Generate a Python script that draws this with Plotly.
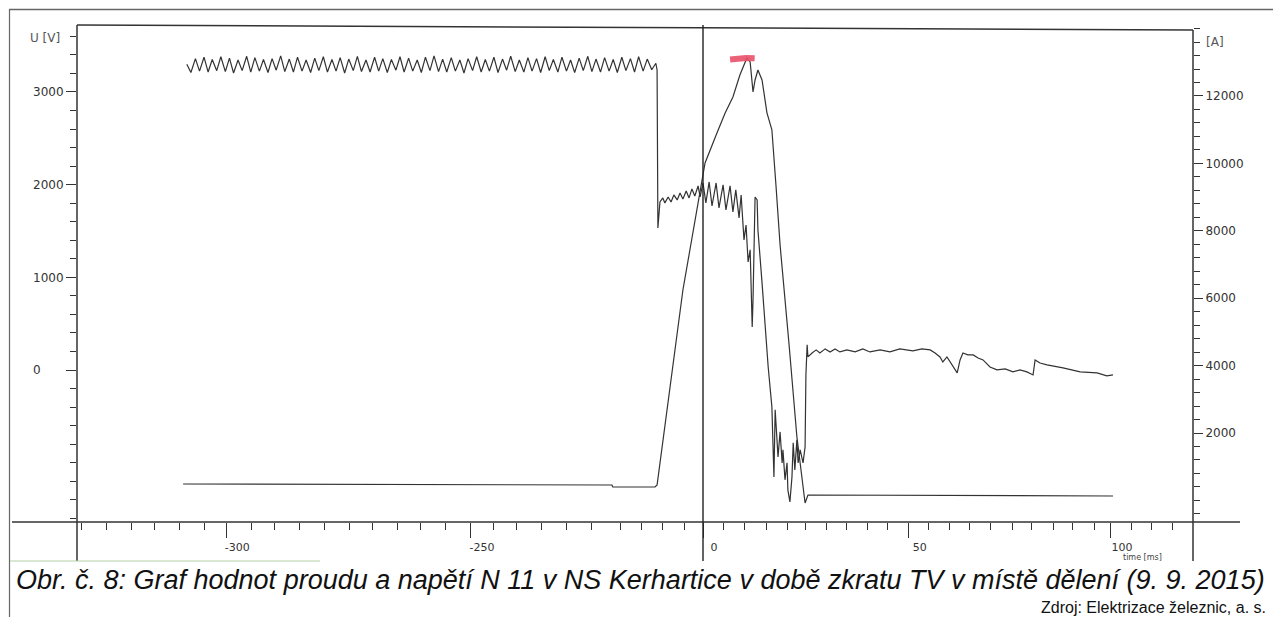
import plotly.graph_objects as go

# page body has an 8px margin; the figure fills the rest of the 1281x625 window
OFF = 8
W, H = 1281 - 2 * OFF, 625 - 2 * OFF

# ---------------- data (time in ms along the drawn axis) ----------------
# voltage ripple before the fault
t_ripple = [
    -125.9, -124.9, -123.8, -122.8, -121.7, -120.7, -119.7, -118.6, -117.6, -116.5,
    -115.5, -114.5, -113.4, -112.4, -111.3, -110.3, -109.3, -108.2, -107.2, -106.1,
    -105.1, -104.1, -103.0, -102.0, -100.9, -99.9, -98.9, -97.8, -96.8, -95.7,
    -94.7, -93.7, -92.6, -91.6, -90.5, -89.5, -88.5, -87.4, -86.4, -85.3,
    -84.3, -83.3, -82.2, -81.2, -80.1, -79.1, -78.1, -77.0, -76.0, -74.9,
    -73.9, -72.9, -71.8, -70.8, -69.7, -68.7, -67.7, -66.6, -65.6, -64.5,
    -63.5, -62.5, -61.4, -60.4, -59.3, -58.3, -57.3, -56.2, -55.2, -54.1,
    -53.1, -52.1, -51.0, -50.0, -48.9, -47.9, -46.9, -45.8, -44.8, -43.7,
    -42.7, -41.7, -40.6, -39.6, -38.5, -37.5, -36.5, -35.4, -34.4, -33.3,
    -32.3, -31.3, -30.2, -29.2, -28.1, -27.1, -26.1, -25.0, -24.0, -22.9,
    -21.9, -20.9, -19.8, -18.8, -17.7, -16.7, -15.7, -14.6, -13.6, -12.5,
    -11.5,
]
u_ripple = [
    3300, 3210, 3360, 3225, 3375, 3215, 3350, 3230, 3380, 3220,
    3365, 3205, 3345, 3230, 3385, 3215, 3370, 3225, 3350, 3210,
    3360, 3235, 3390, 3220, 3355, 3215, 3375, 3225, 3345, 3210,
    3365, 3230, 3380, 3215, 3350, 3225, 3370, 3205, 3355, 3230,
    3385, 3220, 3345, 3215, 3375, 3225, 3360, 3210, 3350, 3235,
    3380, 3215, 3365, 3225, 3345, 3210, 3375, 3230, 3390, 3220,
    3355, 3215, 3370, 3225, 3345, 3205, 3360, 3230, 3380, 3215,
    3350, 3225, 3375, 3210, 3355, 3235, 3385, 3220, 3345, 3215,
    3370, 3225, 3360, 3210, 3380, 3230, 3350, 3215, 3375, 3225,
    3345, 3210, 3365, 3230, 3385, 3220, 3355, 3215, 3370, 3225,
    3350, 3210, 3375, 3230, 3360, 3215, 3380, 3225, 3355, 3240,
    3310,
]
# voltage during and after the short circuit
t_fault = [
    -11.2, -11.0, -10.5, -9.8, -9.3, -8.5, -7.8, -7.1, -6.3, -5.6,
    -4.9, -4.1, -3.4, -2.7, -2.0, -1.2, -0.7, 0.0, 0.7, 1.5,
    2.2, 3.2, 3.9, 4.9, 5.6, 6.6, 7.3, 8.0, 8.8, 9.3,
    10.0, 10.5, 11.0, 11.5, 12.0, 12.2, 12.7, 13.2, 13.4, 14.4,
    15.1, 15.6, 15.9, 16.8, 17.3, 17.6, 18.3, 18.8, 19.3, 19.5,
    20.0, 20.5, 20.7, 21.2, 21.7, 22.0, 22.4, 22.9, 23.2, 23.7,
    24.1, 24.4, 24.9, 25.1, 25.4, 25.6, 26.6,
]
u_fault = [
    3237, 1533, 1813, 1857, 1803, 1867, 1813, 1889, 1835, 1911,
    1846, 1932, 1857, 1954, 1878, 1986, 1867, 2018, 1803, 2029,
    1770, 2018, 1749, 1997, 1727, 1986, 1706, 1943, 1641, 1889,
    1404, 1565, 1166, 1296, 465, 756, 1867, 1835, 1511, 940,
    508, 217, 33, -398, -1153, -430, -937, -668, -1002, -862,
    -1185, -1002, -1293, -1423, -1153, -786, -1078, -754, -1002, -862,
    -937, -1002, -830, -53, 271, 141, 184,
]
t_after = [
    27.6, 28.5, 29.8, 31.0, 32.2, 33.4, 35.1, 37.1, 39.0, 40.7,
    43.2, 45.6, 48.0, 51.2, 53.4, 55.4, 56.6, 57.8, 58.5, 59.5,
    61.0, 62.0, 62.7, 63.4, 64.6, 65.9, 67.1, 68.3, 70.0, 71.7,
    73.7, 75.6, 77.3, 79.0, 80.5, 81.0, 82.2, 83.9, 87.8, 92.0,
    96.1, 98.5, 100.0,
]
u_after = [
    217, 184, 228, 195, 228, 195, 217, 195, 228, 195,
    217, 195, 228, 206, 228, 217, 184, 141, 87, 141,
    33, -31, 109, 184, 163, 163, 130, 109, 33, 1,
    12, -20, 1, -20, -53, 109, 76, 55, 23, -20,
    -31, -63, -53,
]

# current
t_current = [
    -126.8, -22.2, -22.0, -11.7, -11.2, -9.3, -6.8, -4.9, -3.2, -1.5,
    0.5, 3.4, 5.4, 7.3, 9.0, 10.7, 11.5, 12.2, 12.7, 13.4,
    14.4, 15.6, 16.8, 17.8, 18.8, 21.0, 22.9, 24.9, 25.6, 100.0,
]
i_current = [
    487, 457, 398, 398, 457, 2235, 4522, 6243, 7430, 8617,
    10011, 10902, 11495, 11970, 12623, 13128, 13009, 12119, 12475, 12772,
    12475, 11499, 10996, 9345, 7579, 4611, 1887, -77, 160, 131,
]
# red highlighter mark on the current peak
t_mark = [6.6, 8.5, 10.5, 12.6]
i_mark = [13080, 13110, 13130, 13120]

# axes ticks
x_tick_pos = [-116.3, -56.6, 0, 50.2, 99.5]
x_tick_text = ["-300", "-250", "0", "50", "100"]
x_minor_pos = [
    -151.5, -145.6, -139.5, -133.7, -127.6, -121.7, -110.2, -104.4, -98.3, -92.4,
    -86.3, -80.5, -74.6, -68.8, -62.7, -51.2, -45.4, -39.3, -33.4, -27.3,
    -20.2, -14.9, -9.8, -4.6, 5.1, 10.2, 15.4, 20.5, 25.1, 30.0,
    35.1, 40.2, 45.1, 55.1, 60.2, 65.1, 70.2, 75.4, 80.2, 85.4,
    90.2, 95.4, 104.6, 109.5, 114.6,
]
u_tick_vals = [0, 1000, 2000, 3000]
u_tick_text = ["0\u2007\u2007\u2007", "1000", "2000", "3000"]
i_tick_vals = [2000, 4000, 6000, 8000, 10000, 12000]
i_tick_text = ["2000", "4000", "6000", "8000", "10000", "12000"]

caption = "Obr. č. 8: Graf hodnot proudu a napětí N 11 v NS Kerhartice v době zkratu TV v místě dělení (9. 9. 2015)"
source = "Zdroj: Elektrizace železnic, a. s."


# ---------------- figure ----------------
def px(x):
    """window pixel -> paper fraction"""
    return (x - OFF) / W


def py(y):
    return 1 - (y - OFF) / H


line_col = "#333333"
fig = go.Figure()
fig.add_trace(go.Scatter(x=t_ripple + t_fault + t_after, y=u_ripple + u_fault + u_after,
                         mode="lines", line=dict(color=line_col, width=1.2),
                         yaxis="y", name="U [V]", hoverinfo="skip"))
fig.add_trace(go.Scatter(x=t_current, y=i_current, mode="lines",
                         line=dict(color=line_col, width=1.2),
                         yaxis="y2", name="I [A]", hoverinfo="skip"))
fig.add_trace(go.Scatter(x=t_mark, y=i_mark, mode="lines",
                         line=dict(color="rgba(232,80,105,0.9)", width=6),
                         yaxis="y2", hoverinfo="skip"))

tick_font = dict(family="DejaVu Sans", size=12, color="#333333")
ydom = [py(522), py(27)]

fig.update_layout(
    width=W, height=H, margin=dict(l=0, r=0, t=0, b=0),
    paper_bgcolor="white", plot_bgcolor="white", showlegend=False,
    xaxis=dict(domain=[px(77), px(1193)], range=[(77 - 703) / 4.1, (1193 - 703) / 4.1],
               showgrid=False, zeroline=False, showline=False,
               tickmode="array", tickvals=x_tick_pos, ticktext=x_tick_text,
               ticks="outside", ticklen=15, tickwidth=1.3, tickcolor="#333",
               ticklabelshift=11,
               tickfont=dict(family="DejaVu Sans", size=11, color="#333"),
               minor=dict(tickmode="array", tickvals=x_minor_pos, ticks="outside",
                          ticklen=7, tickwidth=1.2, tickcolor="#333", showgrid=False)),
    yaxis=dict(domain=ydom, range=[-1640, 3701], showgrid=False, zeroline=False,
               showline=False, tickmode="array", tickvals=u_tick_vals, ticktext=u_tick_text,
               ticks="outside", ticklen=10, tickwidth=1.3, tickcolor="#333",
               tickfont=tick_font,
               minor=dict(dtick=200, tick0=0, ticks="outside", ticklen=6,
                          tickwidth=1.2, tickcolor="#333", showgrid=False)),
    yaxis2=dict(domain=ydom, range=[-641, 14047], overlaying="y", side="right",
                anchor="x", showgrid=False, zeroline=False, showline=False,
                tickmode="array", tickvals=i_tick_vals, ticktext=i_tick_text,
                ticks="outside", ticklen=9, tickwidth=1.3, tickcolor="#333",
                tickfont=tick_font,
                minor=dict(dtick=400, tick0=0, ticks="outside", ticklen=6,
                           tickwidth=1.2, tickcolor="#333", showgrid=False)),
)

shapes = []


def pline(x0, y0, x1, y1, color="#333", width=1.4):
    shapes.append(dict(type="line", xref="paper", yref="paper",
                       x0=px(x0), y0=py(y0), x1=px(x1), y1=py(y1),
                       line=dict(color=color, width=width)))


# outer frame of the figure
pline(9, 9.5, 1281, 9.5, "#666", 1.5)
pline(9.5, 9, 9.5, 625, "#666", 1.2)
# chart frame
pline(77, 25, 1193, 30, "#333", 1.5)
pline(77, 25, 77, 561, "#333", 1.5)
pline(1193, 30, 1193, 561, "#333", 1.5)
pline(12, 522, 1240, 522, "#333", 1.5)
pline(10, 561, 320, 561, "#b3cfa8", 1.2)
# vertical line at time 0
shapes.append(dict(type="line", xref="x", yref="paper", x0=0, x1=0,
                   y0=py(561), y1=py(25), line=dict(color="#222", width=1.4)))
fig.update_layout(shapes=shapes)

ann = [
    dict(text="U [V]", x=px(28), y=py(38), xanchor="left", yanchor="middle",
         font=dict(family="DejaVu Sans", size=12, color="#555")),
    dict(text="[A]", x=px(1204), y=py(42), xanchor="left", yanchor="middle",
         font=dict(family="DejaVu Sans", size=12, color="#555")),
    dict(text="time [ms]", x=px(1121), y=py(557), xanchor="left", yanchor="middle",
         font=dict(family="DejaVu Sans", size=8, color="#444")),
    dict(text="<i>" + caption + "</i>", x=px(640), y=py(580), xanchor="center",
         yanchor="middle", font=dict(family="Liberation Sans", size=27, color="#111")),
    dict(text=source, x=px(1268), y=py(607), xanchor="right", yanchor="middle",
         font=dict(family="Liberation Sans", size=16, color="#111")),
]
for a in ann:
    a.update(xref="paper", yref="paper", showarrow=False)
fig.update_layout(annotations=ann)

fig.write_html("out.html")
